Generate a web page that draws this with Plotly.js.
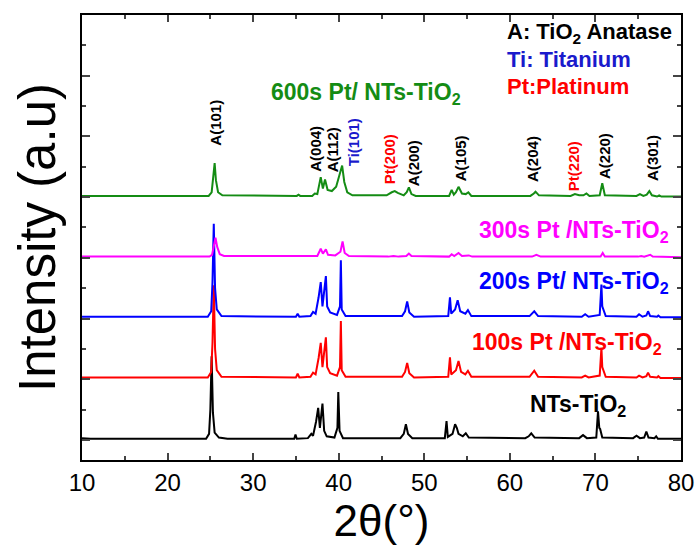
<!DOCTYPE html>
<html>
<head>
<meta charset="utf-8">
<script src="https://cdn.plot.ly/plotly-3.0.1.min.js"></script>
<style>html,body{margin:0;padding:0;background:#fff;}#chart{width:696px;height:547px;}</style>
</head>
<body>
<div id="chart"></div>
<script>
// ---- Data (2θ in degrees, intensity in arbitrary units above each curve's baseline) ----
const seriesNames = ["NTs-TiO2", "100s Pt /NTs-TiO2", "200s Pt/ NTs-TiO2", "300s Pt /NTs-TiO2", "600s Pt/ NTs-TiO2"];
const seriesOffsets = [0, 1, 2, 3, 4];

const ntsX = [10,11,24.5,24.85,25.0,25.15,25.3,25.5,26.0,27,34.8,34.95,35.1,36.4,36.8,37.0,37.35,37.6,37.8,38.1,38.3,38.6,39.5,39.85,39.95,40.1,40.5,47.2,47.6,47.85,48.1,48.6,52.4,52.6,52.75,53.3,53.6,53.8,54.0,54.5,54.85,55.2,61.8,62.2,62.5,62.9,68.1,68.55,69.0,70.1,70.3,70.45,70.55,70.8,74.4,74.8,75.2,75.7,75.95,76.2,76.9,77.1,77.3,80];
const ntsY = [0.03,0.02,0.02,0.1,0.5,1.38,0.45,0.12,0.04,0.02,0.02,0.09,0.02,0.03,0.1,0.07,0.3,0.53,0.2,0.6,0.15,0.06,0.04,0.2,0.79,0.15,0.03,0.03,0.1,0.26,0.1,0.03,0.03,0.31,0.05,0.1,0.26,0.2,0.1,0.06,0.11,0.04,0.03,0.06,0.11,0.04,0.03,0.08,0.03,0.04,0.47,0.2,0.18,0.04,0.03,0.07,0.03,0.04,0.14,0.04,0.03,0.06,0.02,0.02];

const pt100X = [10,24.7,25.1,25.25,25.4,25.55,25.75,26.3,35.0,35.2,35.4,36.7,37.0,37.3,37.65,37.9,38.1,38.5,38.65,39.0,39.8,40.15,40.25,40.35,40.8,45.5,46.4,47.4,47.75,48.0,48.25,48.8,52.8,53.0,53.15,53.7,54.0,54.3,54.8,55.1,55.5,62.3,62.85,63.3,68.4,68.8,69.2,70.5,70.7,70.8,70.9,71.2,74.8,75.1,75.5,75.95,76.15,76.4,77.2,77.35,77.6,80];
const pt100Y = [0.03,0.03,0.12,0.6,1.55,0.5,0.15,0.04,0.03,0.09,0.03,0.04,0.11,0.08,0.35,0.6,0.2,0.69,0.2,0.1,0.06,0.2,0.96,0.15,0.04,0.03,0.04,0.04,0.12,0.27,0.1,0.03,0.04,0.36,0.08,0.15,0.3,0.12,0.08,0.14,0.04,0.04,0.14,0.04,0.03,0.06,0.03,0.06,0.52,0.2,0.15,0.04,0.03,0.06,0.03,0.05,0.11,0.04,0.03,0.05,0.02,0.02];

const pt200X = [10,24.7,25.1,25.25,25.4,25.55,25.75,26.3,35.0,35.2,35.4,36.7,37.0,37.3,37.65,37.9,38.1,38.5,38.65,39.0,39.8,40.15,40.25,40.35,40.8,45.5,46.4,47.4,47.75,48.0,48.25,48.8,52.8,53.0,53.15,53.6,53.9,54.2,54.8,55.1,55.5,62.3,62.85,63.3,68.4,68.8,69.2,70.5,70.7,70.8,70.9,71.2,74.8,75.1,75.5,75.95,76.15,76.4,77.2,77.35,77.6,80];
const pt200Y = [0.03,0.03,0.12,0.6,1.56,0.5,0.15,0.04,0.03,0.08,0.03,0.04,0.11,0.08,0.35,0.6,0.2,0.7,0.2,0.1,0.06,0.2,0.96,0.15,0.04,0.03,0.04,0.04,0.12,0.28,0.1,0.03,0.04,0.35,0.08,0.15,0.3,0.12,0.08,0.14,0.04,0.04,0.12,0.04,0.03,0.07,0.03,0.06,0.56,0.2,0.15,0.04,0.03,0.07,0.03,0.05,0.12,0.04,0.03,0.05,0.02,0.02];

const pt300X = [10,24.9,25.2,25.45,25.6,25.8,26.1,26.6,35.1,35.3,35.5,37.0,37.2,37.5,37.9,38.15,38.5,38.75,39.6,40.2,40.45,40.7,41.2,45.8,46.4,47.0,47.9,48.2,48.5,52.9,53.2,53.5,54.0,54.4,55.2,55.6,62.6,63.1,63.6,68.7,69.1,69.5,70.6,70.85,71.1,75.0,75.35,75.7,76.4,76.7,77.5,77.8,80];
const pt300Y = [0.02,0.02,0.05,0.2,0.33,0.18,0.06,0.03,0.02,0.03,0.02,0.02,0.03,0.03,0.15,0.07,0.14,0.05,0.04,0.1,0.27,0.08,0.03,0.02,0.03,0.02,0.03,0.07,0.03,0.02,0.06,0.03,0.08,0.03,0.04,0.02,0.02,0.05,0.02,0.02,0.02,0.02,0.02,0.08,0.02,0.02,0.03,0.02,0.05,0.02,0.02,0.01,0.01];

const pt600X = [10,24.8,25.15,25.35,25.5,25.65,25.9,26.4,35.1,35.3,35.5,36.9,37.2,37.5,37.9,38.15,38.4,38.7,39.2,39.7,40.1,40.4,40.65,41.0,41.6,45.6,46.2,46.55,46.9,47.6,47.95,48.2,48.5,49.0,52.9,53.2,53.45,53.7,54.0,54.4,54.85,55.15,55.5,62.4,62.8,63.0,63.4,67.1,67.6,68.1,68.6,68.95,69.3,70.5,70.8,71.1,74.8,75.2,75.6,76.0,76.3,76.6,77.2,77.45,77.7,80];
const pt600Y = [0.02,0.02,0.08,0.3,0.56,0.28,0.08,0.03,0.02,0.04,0.02,0.02,0.06,0.05,0.33,0.14,0.29,0.12,0.1,0.17,0.35,0.52,0.25,0.08,0.03,0.03,0.08,0.1,0.07,0.03,0.08,0.16,0.05,0.02,0.02,0.12,0.04,0.08,0.17,0.06,0.05,0.08,0.02,0.02,0.06,0.09,0.03,0.02,0.05,0.03,0.03,0.06,0.02,0.03,0.23,0.03,0.02,0.05,0.02,0.04,0.1,0.03,0.01,0.03,0.01,0.01];

const seriesX = [ntsX, pt100X, pt200X, pt300X, pt600X];
const seriesY = [ntsY, pt100Y, pt200Y, pt300Y, pt600Y];

// Peak labels
const peakLabels = ["A(101)","A(004)","A(112)","Ti(101)","Pt(200)","A(200)","A(105)","A(204)","Pt(220)","A(220)","A(301)"];
const peakLabelTheta = [25.5, 37.2, 39.3, 41.7, 45.9, 48.7, 54.2, 62.7, 67.4, 71.0, 76.6];
const peakLabelKind = ["A","A","A","Ti","Pt","A","A","A","Pt","A","A"];

// Key text
const keyTexts = ["A: TiO<sub>2</sub> Anatase", "Ti: Titanium", "Pt:Platinum"];
const keyKinds = ["A", "Ti", "Pt"];

// ---- Styles ----
const lineColors = ["#000000", "#ff0000", "#0000ff", "#ff00ff", "#148c14"];
const kindColors = {A: "#000000", Ti: "#1a1acc", Pt: "#ff0000"};
const FONT = "Liberation Sans, Arial, Helvetica, sans-serif";

const plotLeft = 82, plotRight = 681, plotTop = 15, plotBottom = 460;
function paperY(px) { return (plotBottom - px) / (plotBottom - plotTop); }
function paperX(px) { return (px - plotLeft) / (plotRight - plotLeft); }

const traces = seriesNames.map((name, i) => ({
  type: "scatter", mode: "lines", name: name,
  x: seriesX[i],
  y: seriesY[i].map(v => v + seriesOffsets[i]),
  line: {color: lineColors[i], width: 2},
  hoverinfo: "x+y+name"
}));

const annotations = [];
const labelBottomPx = [147, 173, 173, 167, 185, 187, 182, 183, 192, 180, 182];
peakLabels.forEach((t, i) => {
  annotations.push({
    text: "<b>" + t + "</b>", x: peakLabelTheta[i], xref: "x",
    y: paperY(labelBottomPx[i]), yref: "paper",
    xanchor: "center", yanchor: "bottom", textangle: -90, showarrow: false,
    font: {family: FONT, size: 15, color: kindColors[peakLabelKind[i]]}, borderpad: 0
  });
});

const keyYpx = [33, 59, 86];
keyTexts.forEach((t, i) => {
  annotations.push({
    text: "<b>" + t + "</b>", x: paperX(506),  xref: "paper",
    y: paperY(keyYpx[i]), yref: "paper", xanchor: "left", yanchor: "middle",
    showarrow: false, font: {family: FONT, size: 22, color: kindColors[keyKinds[i]]}, borderpad: 0
  });
});

const sampleLabelText = ["NTs-TiO<sub>2</sub>", "100s Pt /NTs-TiO<sub>2</sub>", "200s Pt/ NTs-TiO<sub>2</sub>", "300s Pt /NTs-TiO<sub>2</sub>", "600s Pt/ NTs-TiO<sub>2</sub>"];
const sampleLabelRightPx = [627, 663, 670, 670, 462];
const sampleLabelYpx = [405, 343, 282, 231, 93];
sampleLabelText.forEach((t, i) => {
  annotations.push({
    text: "<b>" + t + "</b>", x: paperX(sampleLabelRightPx[i]), xref: "paper",
    y: paperY(sampleLabelYpx[i]), yref: "paper", xanchor: "right", yanchor: "middle",
    showarrow: false, font: {family: FONT, size: 23, color: lineColors[i]}, borderpad: 0
  });
});

const layout = {
  width: 696, height: 547,
  margin: {l: 82, r: 15, t: 15, b: 87, pad: 0},
  paper_bgcolor: "#ffffff", plot_bgcolor: "#ffffff",
  showlegend: false,
  font: {family: FONT, color: "#000000"},
  xaxis: {
    range: [10, 80], tick0: 10, dtick: 10, ticks: "inside", ticklen: 7, tickwidth: 2,
    showline: true, linewidth: 2, linecolor: "#000", mirror: "allticks",
    showgrid: false, zeroline: false,
    tickfont: {family: FONT, size: 24, color: "#000"},
    minor: {dtick: 5, ticks: "inside", ticklen: 4, tickwidth: 2, showgrid: false},
    title: {text: "2θ(°)", font: {family: FONT, size: 44, color: "#000"}, standoff: 4}
  },
  yaxis: {
    range: [-0.33, 7.0], tick0: 0, dtick: 1, ticks: "inside", ticklen: 8, tickwidth: 2,
    showline: true, linewidth: 2, linecolor: "#000", mirror: "allticks",
    showgrid: false, zeroline: false, showticklabels: false,
    minor: {dtick: 0.5, ticks: "inside", ticklen: 4, tickwidth: 2, showgrid: false},
    title: {text: "Intensity (a.u)", font: {family: FONT, size: 51, color: "#000"}, standoff: 8}
  },
  annotations: annotations
};

Plotly.newPlot("chart", traces, layout, {displayModeBar: false, staticPlot: true});
</script>
</body>
</html>
